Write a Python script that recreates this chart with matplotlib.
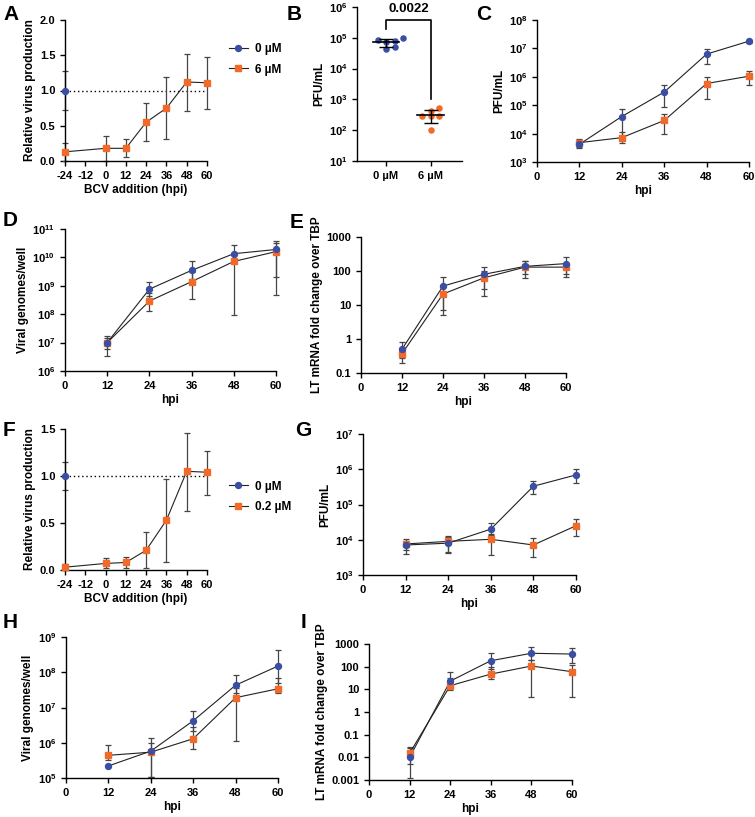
import numpy as np
import matplotlib
matplotlib.use('Agg')
import matplotlib.pyplot as plt
from matplotlib.lines import Line2D
from matplotlib.ticker import FuncFormatter, FixedLocator, NullLocator

#________________ DATA ________________
# A / F : relative virus production vs time of BCV addition
add_x = [-24, 0, 12, 24, 36, 48, 60]
A_ctrl, A_ctrl_lo, A_ctrl_hi = 1.0, 0.73, 1.27
A_bcv = [0.13, 0.18, 0.18, 0.55, 0.75, 1.12, 1.11]
A_bcv_lo = [0.0, 0.0, 0.06, 0.28, 0.31, 0.71, 0.74]
A_bcv_hi = [0.25, 0.36, 0.31, 0.82, 1.19, 1.52, 1.48]

F_ctrl, F_ctrl_lo, F_ctrl_hi = 1.0, 0.85, 1.15
F_bcv = [0.03, 0.07, 0.08, 0.21, 0.53, 1.05, 1.04]
F_bcv_lo = [0.0, 0.02, 0.02, 0.02, 0.09, 0.63, 0.80]
F_bcv_hi = [0.06, 0.125, 0.14, 0.40, 0.97, 1.46, 1.27]

# B : PFU/mL replicates
B_groups = ['0 µM', '6 µM']
B_ctrl = [7.3e4, 8.2e4, 9.8e4, 7.8e4, 4.2e4, 5.0e4]
B_bcv = [520, 420, 280, 280, 100, 300]
B_pvalue = '0.0022'

# time courses
hpi = [12, 24, 36, 48, 60]

C_ctrl = [4.2e3, 4.0e4, 2.9e5, 6.3e6, 1.8e7]
C_ctrl_lo = [3.0e3, 7.0e3, 8.7e4, 2.8e6, 1.6e7]
C_ctrl_hi = [5.5e3, 7.6e4, 5.0e5, 9.5e6, 2.0e7]
C_bcv = [4.8e3, 7.2e3, 2.9e4, 5.8e5, 1.05e6]
C_bcv_lo = [3.5e3, 4.7e3, 1.0e4, 1.7e5, 5.0e5]
C_bcv_hi = [6.3e3, 1.1e4, 5.0e4, 1.0e6, 1.6e6]

D_ctrl = [1.0e7, 7.6e8, 3.5e9, 1.35e10, 1.9e10]
D_ctrl_lo = [3.5e6, 4.5e8, 1.7e9, 8.0e9, 2.0e9]
D_ctrl_hi = [1.7e7, 1.35e9, 7.5e9, 2.7e10, 3.7e10]
D_bcv = [1.0e7, 2.9e8, 1.4e9, 7.2e9, 1.6e10]
D_bcv_lo = [6.0e6, 1.3e8, 3.3e8, 9.5e7, 4.7e8]
D_bcv_hi = [1.4e7, 5.6e8, 3.0e9, 1.4e10, 3.2e10]

E_ctrl = [0.5, 36, 80, 137, 165]
E_ctrl_lo = [0.27, 7, 30, 80, 80]
E_ctrl_hi = [0.8, 67, 133, 200, 260]
E_bcv = [0.37, 21, 63, 130, 130]
E_bcv_lo = [0.2, 5, 19, 63, 66]
E_bcv_hi = [0.53, 34, 100, 200, 165]

G_ctrl = [7.1e3, 8.0e3, 2.0e4, 3.3e5, 6.9e5]
G_ctrl_lo = [4.0e3, 4.6e3, 1.4e4, 2.0e5, 4.2e5]
G_ctrl_hi = [1.03e4, 1.2e4, 3.0e4, 4.7e5, 1.0e6]
G_bcv = [7.6e3, 9.0e3, 1.03e4, 7.1e3, 2.5e4]
G_bcv_lo = [5.0e3, 4.2e3, 3.8e3, 3.2e3, 1.25e4]
G_bcv_hi = [9.5e3, 1.3e4, 1.5e4, 1.1e4, 3.8e4]

H_ctrl = [2.2e5, 5.8e5, 4.2e6, 4.3e7, 1.5e8]
H_ctrl_lo = [2.0e5, 1.1e5, 2.2e6, 2.5e7, 5.0e7]
H_ctrl_hi = [2.4e5, 1.4e6, 8.0e6, 8.5e7, 4.2e8]
H_bcv = [4.4e5, 5.4e5, 1.3e6, 1.9e7, 3.4e7]
H_bcv_lo = [3.3e5, 1.1e5, 6.6e5, 1.1e6, 2.5e7]
H_bcv_hi = [8.5e5, 1.0e6, 2.8e6, 3.5e7, 7.0e7]

I_ctrl = [0.01, 23, 183, 390, 360]
I_ctrl_lo = [0.0012, 12, 80, 200, 150]
I_ctrl_hi = [0.028, 58, 410, 770, 640]
I_bcv = [0.015, 14.5, 47, 107, 60]
I_bcv_lo = [0.005, 9, 30, 4.5, 4.5]
I_bcv_hi = [0.026, 33, 100, 200, 120]

#________________ STYLE ________________
BLUE = '#3a4fa3'
ORANGE = '#f26a2a'
ERR = '#454545'
W, H = 755, 817

plt.rcParams['font.family'] = ['Liberation Sans', 'DejaVu Sans']
plt.rcParams['font.weight'] = 'bold'
plt.rcParams['axes.labelweight'] = 'bold'
plt.rcParams['font.size'] = 8
plt.rcParams['mathtext.fontset'] = 'custom'
plt.rcParams['mathtext.bf'] = 'Liberation Sans:bold'
plt.rcParams['mathtext.rm'] = 'Liberation Sans:bold'
plt.rcParams['mathtext.default'] = 'bf'
plt.rcParams['axes.unicode_minus'] = False
plt.rcParams['axes.linewidth'] = 1.0
plt.rcParams['xtick.major.width'] = 1.0
plt.rcParams['ytick.major.width'] = 1.0
plt.rcParams['xtick.major.size'] = 3.5
plt.rcParams['ytick.major.size'] = 3.5
plt.rcParams['axes.labelpad'] = 2.5

fig = plt.figure(figsize=(W / 100, H / 100), dpi=100)


def make_ax(l, r, t, b):
    ax = fig.add_axes([l / W, 1 - b / H, (r - l) / W, (b - t) / H])
    ax.spines['top'].set_visible(False)
    ax.spines['right'].set_visible(False)
    return ax


def log_fmt(v, p):
    return r'$10^{%d}$' % round(np.log10(v))


def series(ax, x, y, lo, hi, color, marker, ms):
    y = np.asarray(y, float)
    err = [y - np.asarray(lo, float), np.asarray(hi, float) - y]
    ax.errorbar(x, y, yerr=err, fmt='none', ecolor=ERR, elinewidth=0.9,
                capsize=2.5, capthick=0.9, clip_on=False, zorder=2)
    ax.plot(x, y, '-', color='#222222', lw=0.8, zorder=3, clip_on=False)
    ax.plot(x, y, marker, color=color, ms=ms, mec=color, zorder=4, clip_on=False)


def timecourse(ax, ctrl, clo, chi, bcv, blo, bhi, ylim, ylabel, plain=False):
    series(ax, hpi, bcv, blo, bhi, ORANGE, 's', 4.3)
    series(ax, hpi, ctrl, clo, chi, BLUE, 'o', 4.3)
    ax.set_yscale('log')
    ax.set_ylim(*ylim)
    ax.set_xlim(0, 60)
    ax.set_xticks([0, 12, 24, 36, 48, 60])
    decades = 10.0 ** np.arange(np.log10(ylim[0]), np.log10(ylim[1]) + 0.5)
    ax.yaxis.set_major_locator(FixedLocator(decades))
    ax.yaxis.set_minor_locator(NullLocator())
    if plain:
        ax.yaxis.set_major_formatter(FuncFormatter(lambda v, p: ('%g' % v)))
    else:
        ax.yaxis.set_major_formatter(FuncFormatter(log_fmt))
    ax.set_xlabel('hpi', fontsize=8.5)
    ax.set_ylabel(ylabel, fontsize=8.5)


def addition_panel(ax, ctrl, clo, chi, bcv, blo, bhi, ymax, yticks, dose, legy):
    ax.axhline(1.0, color='black', lw=1.0, ls=(0, (1, 2)), zorder=1)
    ax.errorbar([add_x[0]], [ctrl], yerr=[[ctrl - clo], [chi - ctrl]], fmt='none',
                ecolor=ERR, elinewidth=0.9, capsize=2.5, capthick=0.9, clip_on=False)
    ax.plot([add_x[0]], [ctrl], 'o', color=BLUE, mec=BLUE, ms=4.3, clip_on=False, zorder=5)
    series(ax, add_x, bcv, blo, bhi, ORANGE, 's', 4.3)
    hb = Line2D([], [], color='#222222', lw=0.8, marker='o', mfc=BLUE, mec=BLUE, ms=4.3)
    ho = Line2D([], [], color='#222222', lw=0.8, marker='s', mfc=ORANGE, mec=ORANGE, ms=4.3)
    ax.set_xlim(-24, 60)
    ax.set_ylim(0, ymax)
    ax.set_xticks([-24, -12, 0, 12, 24, 36, 48, 60])
    ax.set_yticks(yticks)
    ax.yaxis.set_major_formatter(FuncFormatter(lambda v, p: '%.1f' % v))
    ax.set_xlabel('BCV addition (hpi)', fontsize=8.5)
    ax.set_ylabel('Relative virus production', fontsize=8.5)
    ax.legend([hb, ho], ['0 µM', dose], loc='center left', bbox_to_anchor=(1.08, legy),
              frameon=False, fontsize=8.5, handlelength=1.6, handletextpad=0.6,
              labelspacing=0.7)


def swarm_offsets(vals, width=0.095):
    # simple beeswarm in log space: each point takes the closest free slot
    v = np.log10(vals)
    placed = []
    offs = np.zeros(len(v))
    for i in np.argsort(v):
        for k in range(20):
            cands = [0.0] if k == 0 else [k * width, -k * width]
            ok = None
            for c in cands:
                if all(abs(c - o) >= width * 1.9 or abs(v[i] - vv) > 0.15 for o, vv in placed):
                    ok = c
                    break
            if ok is not None:
                offs[i] = ok
                placed.append((ok, v[i]))
                break
    return offs


#________________ A ________________
axA = make_ax(65, 207, 20, 161)
addition_panel(axA, A_ctrl, A_ctrl_lo, A_ctrl_hi, A_bcv, A_bcv_lo, A_bcv_hi,
               2.0, [0.0, 0.5, 1.0, 1.5, 2.0], '6 µM', 0.72)

#________________ B ________________
axB = make_ax(357, 462, 7, 161)
axB.set_yscale('log')
axB.set_ylim(10, 1e6)
axB.set_xlim(-0.65, 1.7)

for gi, (vals, col) in enumerate([(B_ctrl, BLUE), (B_bcv, ORANGE)]):
    offs = swarm_offsets(vals)
    axB.scatter(gi + offs, vals, s=22, color=col, zorder=3, linewidths=0)
    m = np.mean(vals)
    sd = np.std(vals, ddof=1)
    axB.plot([gi - 0.3, gi + 0.3], [m, m], color='black', lw=1.2, zorder=4)
    axB.errorbar([gi], [m], yerr=[[sd], [sd]], fmt='none', ecolor='black',
                 elinewidth=1.0, capsize=5, capthick=1.0, zorder=4)

axB.plot([0, 0, 1, 1], [1.9e5, 3.7e5, 3.7e5, 1.0e3], color='black', lw=1.2)
axB.text(0.5, 5.6e5, B_pvalue, ha='center', va='bottom', fontsize=9.5, fontweight='bold')
axB.set_xticks([0, 1])
axB.set_xticklabels(B_groups, fontsize=8.5)
axB.yaxis.set_major_locator(FixedLocator(10.0 ** np.arange(1, 7)))
axB.yaxis.set_minor_locator(NullLocator())
axB.yaxis.set_major_formatter(FuncFormatter(log_fmt))
axB.set_ylabel('PFU/mL', fontsize=8.5)

#________________ C ________________
axC = make_ax(537, 749, 20, 162)
timecourse(axC, C_ctrl, C_ctrl_lo, C_ctrl_hi, C_bcv, C_bcv_lo, C_bcv_hi,
           (1e3, 1e8), 'PFU/mL')

#________________ D ________________
axD = make_ax(65, 276, 229, 371)
timecourse(axD, D_ctrl, D_ctrl_lo, D_ctrl_hi, D_bcv, D_bcv_lo, D_bcv_hi,
           (1e6, 1e11), 'Viral genomes/well')

#________________ E ________________
axE = make_ax(361, 566, 237, 373)
timecourse(axE, E_ctrl, E_ctrl_lo, E_ctrl_hi, E_bcv, E_bcv_lo, E_bcv_hi,
           (0.1, 1000), 'LT mRNA fold change over TBP', plain=True)

#________________ F ________________
axF = make_ax(65, 207, 429, 570)
addition_panel(axF, F_ctrl, F_ctrl_lo, F_ctrl_hi, F_bcv, F_bcv_lo, F_bcv_hi,
               1.5, [0.0, 0.5, 1.0, 1.5], '0.2 µM', 0.52)

#________________ G ________________
axG = make_ax(363, 576, 434, 575)
timecourse(axG, G_ctrl, G_ctrl_lo, G_ctrl_hi, G_bcv, G_bcv_lo, G_bcv_hi,
           (1e3, 1e7), 'PFU/mL')

#________________ H ________________
axH = make_ax(66, 278, 637, 778)
timecourse(axH, H_ctrl, H_ctrl_lo, H_ctrl_hi, H_bcv, H_bcv_lo, H_bcv_hi,
           (1e5, 1e9), 'Viral genomes/well')

#________________ I ________________
axI = make_ax(369, 572, 644, 780)
timecourse(axI, I_ctrl, I_ctrl_lo, I_ctrl_hi, I_bcv, I_bcv_lo, I_bcv_hi,
           (0.001, 1000), 'LT mRNA fold change over TBP', plain=True)

for ax in [axA, axB, axC, axD, axE, axF, axG, axH, axI]:
    ax.tick_params(labelsize=8)

# panel letters
for letter, px, py in [('A', 3, 14), ('B', 287, 14), ('C', 476, 14),
                       ('D', 3, 220), ('E', 290, 222), ('F', 3, 430),
                       ('G', 295, 430), ('H', 3, 622), ('I', 301, 622)]:
    fig.text(px / W, 1 - py / H, letter, fontsize=15, fontweight='bold',
             ha='left', va='center')

fig.savefig('out.png', dpi=100)
